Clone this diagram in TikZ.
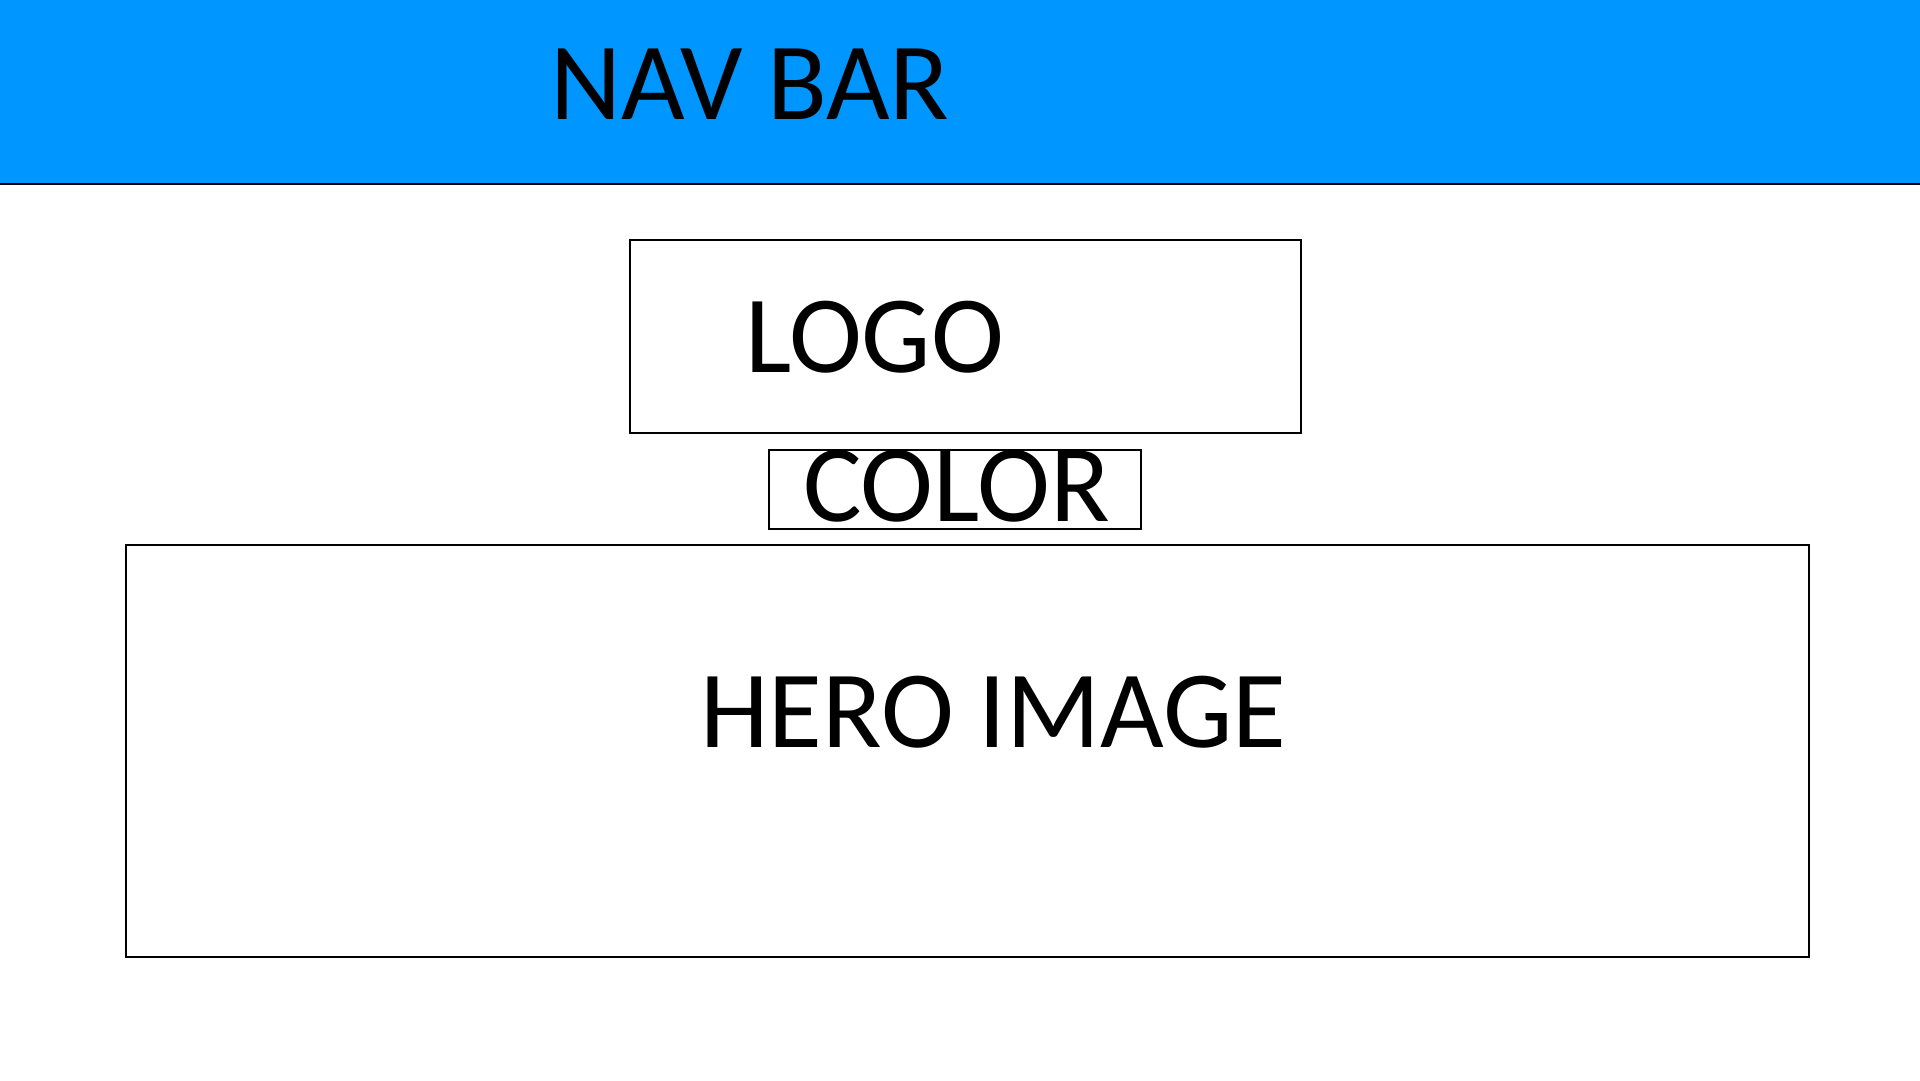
\documentclass[tikz,border=0pt]{standalone}
\usepackage{fontspec}
\setmainfont{Carlito}
\definecolor{navblue}{RGB}{0,150,255}
\begin{document}
\begin{tikzpicture}[x=1pt,y=-1pt,
  frame/.style={draw=black,line width=2pt,inner sep=0pt,anchor=north west},
  label text/.style={inner sep=0pt,anchor=base west,font=\fontsize{110}{110}\selectfont}]
\useasboundingbox (0,0) rectangle (1920,1080);
\fill[white] (0,0) rectangle (1920,1080);
\fill[navblue] (0,0) rectangle (1920,184);
\draw[line width=2pt] (0,184) -- (1920,184);
\node[label text] (nav) at (550,119) {NAV BAR};
\node[frame,minimum width=671pt,minimum height=193pt] (logobox) at (629,239) {};
\node[label text] (logo) at (745,372) {LOGO};
\node[frame,minimum width=372pt,minimum height=79pt] (colorbox) at (768,449) {};
\node[label text] (color) at (803,521) {COLOR};
\node[frame,minimum width=1683pt,minimum height=412pt] (herobox) at (125,544) {};
\node[label text] (hero) at (700,747) {HERO IMAGE};
\end{tikzpicture}
\end{document}
